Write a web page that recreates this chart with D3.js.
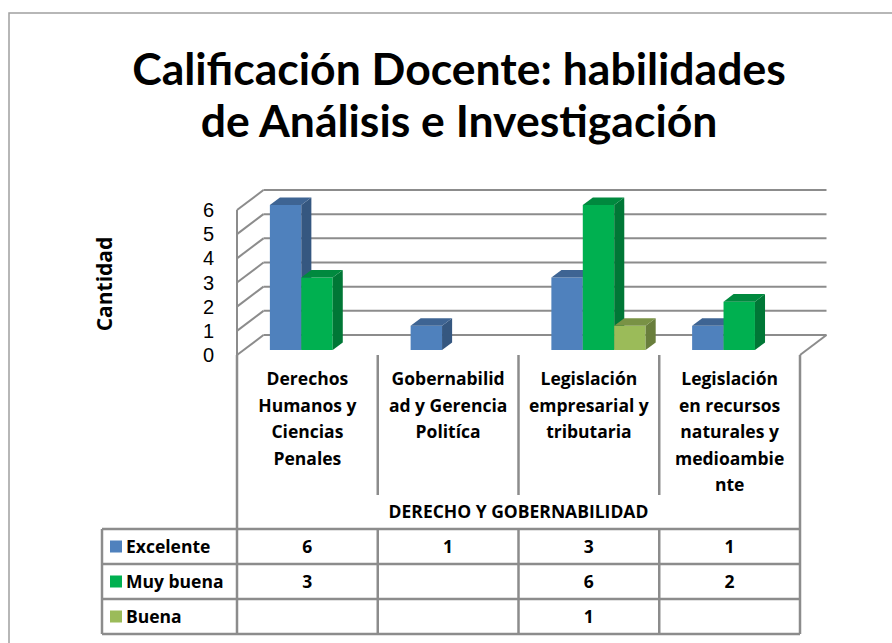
<!DOCTYPE html>
<html>
<head>
<meta charset="utf-8">
<script src="https://cdn.jsdelivr.net/npm/d3@7"></script>
<style>
  body { margin: 0; background: #fff; }
  svg { display: block; font-family: 'Open Sans', Lato, sans-serif; }
</style>
</head>
<body>
<svg id="chart" width="892" height="643"></svg>
<script>
// chart data
const categories = ['Derechos Humanos y Ciencias Penales', 'Gobernabilidad y Gerencia Política',
  'Legislación empresarial y tributaria', 'Legislación en recursos naturales y medioambiente'];
const categoryLines = [
  ['Derechos', 'Humanos y', 'Ciencias', 'Penales'],
  ['Gobernabilid', 'ad y Gerencia', 'Politíca'],
  ['Legislación', 'empresarial y', 'tributaria'],
  ['Legislación', 'en recursos', 'naturales y', 'medioambie', 'nte'],
];
const seriesNames = ['Excelente', 'Muy buena', 'Buena'];
const excelente = [6, 1, 3, 1];
const muyBuena = [3, null, 6, 2];
const buena = [null, null, 1, null];
const yTicks = [0, 1, 2, 3, 4, 5, 6];
const groupLabel = 'DERECHO Y GOBERNABILIDAD';
const titleLines = ['Calificación Docente: habilidades', 'de Análisis e Investigación'];
const yTitle = 'Cantidad';

const seriesValues = [excelente, muyBuena, buena];
const colors = ['#4f81bd', '#00b050', '#9bbb59'];
const gridColor = '#8c8c8c';
const labelSize = 17.5;

const svg = d3.select('#chart');

// outer frame
svg.append('rect')
  .attr('x', 9).attr('y', 13)
  .attr('width', 1000).attr('height', 1000)
  .attr('fill', 'none')
  .attr('stroke', '#a0a0a0')
  .attr('stroke-width', 1.5);

// title
svg.append('g').selectAll('text')
  .data(titleLines)
  .join('text')
  .attr('x', 459)
  .attr('y', (d, i) => 85 + i * 52)
  .attr('text-anchor', 'middle')
  .attr('font-family', 'Lato, sans-serif')
  .attr('font-size', 44.5)
  .attr('font-weight', 'bold')
  .text(d => d);

// scales
const x = d3.scaleBand().domain(d3.range(categories.length)).range([237, 800]);
const y = d3.scaleLinear().domain([0, 6]).range([355, 210]);
const xs = d3.scaleBand().domain(d3.range(seriesNames.length)).range([3, x.bandwidth() + 3])
  .paddingOuter(0.74);

// oblique depth
const DX = 26.5, DY = -20;
function p(px, py, t) { return [px + t * DX, py + t * DY]; }

const grid = svg.append('g')
  .attr('fill', 'none')
  .attr('stroke', gridColor)
  .attr('stroke-width', 2);

const x0 = x.range()[0], x1 = x.range()[1];

// back wall gridlines
yTicks.forEach(v => {
  const a = p(x0, y(v), 1), b = p(x1, y(v), 1);
  grid.append('line').attr('x1', a[0]).attr('y1', a[1]).attr('x2', b[0]).attr('y2', b[1]);
  // side wall diagonals
  const c = p(x0, y(v), 0);
  grid.append('line').attr('x1', c[0]).attr('y1', c[1]).attr('x2', a[0]).attr('y2', a[1]);
});
// side wall front edge
grid.append('line').attr('x1', x0).attr('y1', y(0)).attr('x2', x0).attr('y2', y(6));
// floor right edge
{
  const a = p(x1, y(0), 0), b = p(x1, y(0), 1);
  grid.append('line').attr('x1', a[0]).attr('y1', a[1]).attr('x2', b[0]).attr('y2', b[1]);
}

// y tick labels
svg.append('g').selectAll('text')
  .data(yTicks)
  .join('text')
  .attr('x', 214)
  .attr('y', d => y(d) + 7)
  .attr('text-anchor', 'end')
  .attr('font-family', "'Liberation Sans', sans-serif")
  .attr('font-size', 20)
  .text(d => d);

// y title
svg.append('text')
  .attr('transform', 'translate(112,284) rotate(-90)')
  .attr('text-anchor', 'middle')
  .attr('font-size', 21)
  .attr('font-weight', 'bold')
  .text(yTitle);

// bars
const T0 = 0.25, T1 = 0.63;
const barsG = svg.append('g');
categories.forEach((c, ci) => {
  seriesValues.forEach((vals, si) => {
    const v = vals[ci];
    if (v == null) return;
    const bx0 = x(ci) + xs(si), bx1 = bx0 + xs.bandwidth();
    const base = y(0), top = y(v);
    const col = d3.color(colors[si]);
    const sideCol = col.darker(1.1).formatHex();
    const topCol = col.darker(0.7).formatHex();
    const f = [p(bx0, top, T0), p(bx1, top, T0), p(bx1, base, T0), p(bx0, base, T0)];
    const s = [p(bx1, top, T0), p(bx1, top, T1), p(bx1, base, T1), p(bx1, base, T0)];
    const tp = [p(bx0, top, T0), p(bx0, top, T1), p(bx1, top, T1), p(bx1, top, T0)];
    const poly = pts => pts.map(q => q.join(',')).join(' ');
    barsG.append('polygon').attr('points', poly(f)).attr('fill', colors[si]);
    barsG.append('polygon').attr('points', poly(s)).attr('fill', sideCol);
    barsG.append('polygon').attr('points', poly(tp)).attr('fill', topCol);
  });
});

// data table
const tableLeft = 102, rowTop = 529, rowH = 35;
const labelTop = y(0), groupTop = 495;
const tbl = svg.append('g')
  .attr('stroke', gridColor)
  .attr('stroke-width', 2.5)
  .attr('fill', 'none');

// category separators
x.domain().concat([categories.length]).forEach(i => {
  const xx = i < categories.length ? x(i) : x1;
  const outer = i === 0 || i === categories.length;
  tbl.append('line')
    .attr('x1', xx).attr('x2', xx)
    .attr('y1', labelTop)
    .attr('y2', outer ? rowTop + rowH * seriesNames.length : groupTop);
  if (!outer) {
    tbl.append('line').attr('x1', xx).attr('x2', xx)
      .attr('y1', rowTop).attr('y2', rowTop + rowH * seriesNames.length);
  }
});
// row lines
d3.range(seriesNames.length + 1).forEach(r => {
  tbl.append('line')
    .attr('x1', tableLeft).attr('x2', x1)
    .attr('y1', rowTop + r * rowH).attr('y2', rowTop + r * rowH);
});
tbl.append('line').attr('x1', tableLeft).attr('x2', tableLeft)
  .attr('y1', rowTop).attr('y2', rowTop + rowH * seriesNames.length);

// category labels
categoryLines.forEach((lines, ci) => {
  svg.append('text')
    .attr('text-anchor', 'middle')
    .attr('font-size', labelSize)
    .attr('font-weight', 'bold')
    .selectAll('tspan')
    .data(lines)
    .join('tspan')
    .attr('x', x(ci) + x.bandwidth() / 2)
    .attr('y', (d, i) => 385 + i * 26.5)
    .text(d => d);
});

svg.append('text')
  .attr('x', (x0 + x1) / 2)
  .attr('y', 518)
  .attr('text-anchor', 'middle')
  .attr('font-size', labelSize)
  .attr('font-weight', 'bold')
  .text(groupLabel);

// legend rows + values
seriesNames.forEach((name, si) => {
  const cy = rowTop + si * rowH + rowH / 2;
  svg.append('rect')
    .attr('x', 110).attr('y', cy - 6)
    .attr('width', 12).attr('height', 12)
    .attr('fill', colors[si]);
  svg.append('text')
    .attr('x', 126).attr('y', cy + 6.5)
    .attr('font-size', labelSize)
    .attr('font-weight', 'bold')
    .text(name);
  seriesValues[si].forEach((v, ci) => {
    if (v == null) return;
    svg.append('text')
      .attr('x', x(ci) + x.bandwidth() / 2)
      .attr('y', cy + 6.5)
      .attr('text-anchor', 'middle')
      .attr('font-size', labelSize)
      .attr('font-weight', 'bold')
      .text(v);
  });
});
</script>
</body>
</html>
